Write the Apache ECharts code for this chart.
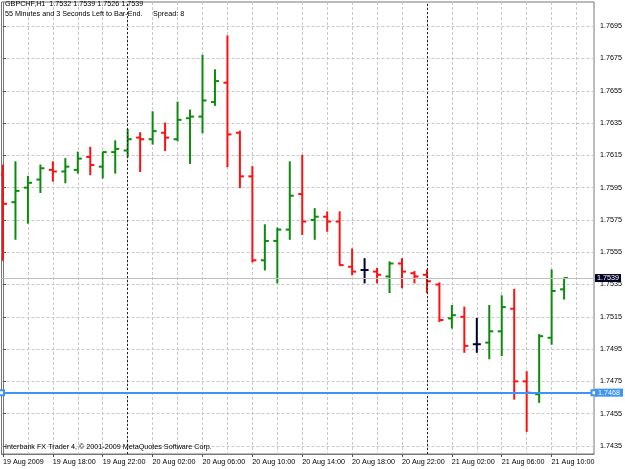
<!DOCTYPE html>
<html><head><meta charset="utf-8">
<script src="https://cdn.jsdelivr.net/npm/echarts@6/dist/echarts.min.js"></script>
<style>html,body{margin:0;padding:0;background:#fff}#c{width:625px;height:469px}</style>
</head><body><div id="c"></div>
<script>
const symbolName = 'GBPCHF,H1';
const times = [
 '19 Aug 14:00','19 Aug 15:00','19 Aug 16:00','19 Aug 17:00','19 Aug 18:00','19 Aug 19:00','19 Aug 20:00','19 Aug 21:00','19 Aug 22:00','19 Aug 23:00',
 '20 Aug 00:00','20 Aug 01:00','20 Aug 02:00','20 Aug 03:00','20 Aug 04:00','20 Aug 05:00','20 Aug 06:00','20 Aug 07:00','20 Aug 08:00','20 Aug 09:00',
 '20 Aug 10:00','20 Aug 11:00','20 Aug 12:00','20 Aug 13:00','20 Aug 14:00','20 Aug 15:00','20 Aug 16:00','20 Aug 17:00','20 Aug 18:00','20 Aug 19:00',
 '20 Aug 20:00','20 Aug 21:00','20 Aug 22:00','20 Aug 23:00',
 '21 Aug 00:00','21 Aug 01:00','21 Aug 02:00','21 Aug 03:00','21 Aug 04:00','21 Aug 05:00','21 Aug 06:00','21 Aug 07:00','21 Aug 08:00','21 Aug 09:00',
 '21 Aug 10:00','21 Aug 11:00'];
const opens = [1.7603,1.7586,1.7595,1.7600,1.7606,1.7605,1.7606,1.7614,1.7608,1.7617,
 1.7618,1.7626,1.7625,1.7629,1.7625,1.7638,1.7639,1.7648,1.7660,1.7629,
 1.7602,1.7550,1.7562,1.7569,1.7591,1.7575,1.7577,1.7574,1.7546,1.7544,
 1.7543,1.7540,1.7548,1.7542,1.7541,1.7535,1.7514,1.7515,1.7498,1.7499,
 1.7506,1.7520,1.7475,1.7467,1.7502,1.7532];
const highs = [1.7609,1.7611,1.7602,1.7609,1.7611,1.7613,1.7617,1.7620,1.7617,1.7624,
 1.7631,1.7629,1.7642,1.7635,1.7648,1.7643,1.7677,1.7668,1.7689,1.7630,
 1.7608,1.7572,1.7570,1.7611,1.7615,1.7582,1.7580,1.7580,1.7557,1.7551,
 1.7545,1.7549,1.7551,1.7543,1.7544,1.7536,1.7522,1.7521,1.7514,1.7522,
 1.7528,1.7532,1.7481,1.7504,1.7544,1.7539];
const lows = [1.7550,1.7563,1.7573,1.7592,1.7599,1.7598,1.7604,1.7603,1.7601,1.7604,
 1.7614,1.7605,1.7622,1.7618,1.7624,1.7610,1.7629,1.7646,1.7608,1.7595,
 1.7549,1.7544,1.7536,1.7563,1.7566,1.7563,1.7568,1.7547,1.7541,1.7536,
 1.7536,1.7530,1.7533,1.7536,1.7530,1.7512,1.7508,1.7493,1.7493,1.7489,
 1.7491,1.7464,1.7444,1.7462,1.7498,1.7526];
const closes = [1.7585,1.7593,1.7598,1.7607,1.7605,1.7608,1.7613,1.7609,1.7617,1.7619,
 1.7625,1.7625,1.7630,1.7626,1.7637,1.7639,1.7649,1.7661,1.7628,1.7602,
 1.7550,1.7562,1.7569,1.7590,1.7574,1.7577,1.7574,1.7547,1.7543,1.7544,
 1.7541,1.7548,1.7543,1.7540,1.7537,1.7513,1.7516,1.7497,1.7498,1.7506,
 1.7521,1.7475,1.7468,1.7503,1.7531,1.7539];
const yTicks = [1.7435,1.7455,1.7475,1.7495,1.7515,1.7535,1.7555,1.7575,1.7595,1.7615,1.7635,1.7655,1.7675,1.7695];
const xTickLabels = ['19 Aug 2009','19 Aug 18:00','19 Aug 22:00','20 Aug 02:00','20 Aug 06:00','20 Aug 10:00','20 Aug 14:00','20 Aug 18:00','20 Aug 22:00','21 Aug 02:00','21 Aug 06:00','21 Aug 10:00'];
const xTickTimes = ['19 Aug 14:00','19 Aug 18:00','19 Aug 22:00','20 Aug 02:00','20 Aug 06:00','20 Aug 10:00','20 Aug 14:00','20 Aug 18:00','20 Aug 22:00','21 Aug 02:00','21 Aug 06:00','21 Aug 10:00'];
const bidPrice = 1.7539;
const hLinePrice = 1.7468;
const infoLine2 = '55 Minutes and 3 Seconds Left to Bar-End.';
const spreadText = 'Spread: 8';
const footerText = 'Interbank FX Trader 4, \u00a9 2001-2009 MetaQuotes Software Corp.';

const FONT = 'Liberation Sans';
const FS = 7.2;
const UP = '#0c8c0c', DOWN = '#ff1010', DOJI = '#000033';
const last = times.length - 1;
const header1 = symbolName + '  ' + [opens[last], highs[last], lows[last], closes[last]].map(v => v.toFixed(4)).join(' ');
const xTickIdx = xTickTimes.map(t => times.indexOf(t));
const gridIdx = times.map((t, i) => i).filter(i => i % 2 === 0).concat([times.length]);
const daySep = times.map((t, i) => i).filter(i => times[i].endsWith('00:00'));
const helperData = times.map((t, i) => [i, closes[i]]);

const chart = echarts.init(document.getElementById('c'), null, {renderer: 'canvas'});
const txt = {fontSize: FS, fontFamily: FONT, fontWeight: 'normal', color: '#000'};
chart.setOption({
  animation: false,
  backgroundColor: '#fff',
  title: [
    {text: header1, left: 5, top: 1, padding: 0, textStyle: txt},
    {text: infoLine2, left: 5, top: 11, padding: 0, textStyle: txt},
    {text: spreadText, left: 153, top: 11, padding: 0, textStyle: txt},
    {text: footerText, left: 5, top: 444, padding: 0, textStyle: txt}
  ],
  grid: {left: 1, top: 2, width: 594, height: 452, show: true, borderColor: '#777', borderWidth: 1, backgroundColor: 'transparent'},
  xAxis: [
    {type: 'value', min: -0.12, max: 47.4, position: 'bottom',
     axisLine: {show: true, lineStyle: {color: '#777', width: 1}},
     axisTick: {show: false, customValues: gridIdx},
     axisLabel: {show: false},
     splitLine: {show: true, lineStyle: {color: '#c8c8c8', type: [3, 2], width: 1}}},
    {type: 'value', min: -0.12, max: 47.4, position: 'bottom',
     axisLine: {show: false},
     axisTick: {show: true, customValues: xTickIdx, length: 3, lineStyle: {color: '#555'}},
     axisLabel: {show: true, customValues: xTickIdx, align: 'left', margin: 5,
       fontSize: FS, fontFamily: FONT, color: '#000',
       formatter: v => xTickLabels[xTickIdx.indexOf(v)] || ''},
     splitLine: {show: false}}
  ],
  yAxis: {
    type: 'value', position: 'right', min: 1.7430, max: 1.7710,
    axisLine: {show: true, lineStyle: {color: '#777', width: 1}},
    axisTick: {show: true, customValues: yTicks, length: 3, lineStyle: {color: '#555'}},
    axisLabel: {show: true, customValues: yTicks, margin: 6, fontSize: FS, fontFamily: FONT, color: '#000',
      formatter: v => v.toFixed(4)},
    splitLine: {show: true, lineStyle: {color: '#c8c8c8', type: [3, 2], width: 1}}
  },
  series: [
    {type: 'line', data: helperData, z: 1, silent: true, symbol: 'none', xAxisIndex: 0,
     lineStyle: {opacity: 0, width: 0},
     markLine: {silent: true, animation: false, precision: 4, symbol: ['none', 'none'],
       data: daySep.map(i => ({xAxis: i, lineStyle: {color: '#222', type: [2, 2], width: 1}, label: {show: false}}))
         .concat([{yAxis: bidPrice, lineStyle: {color: '#c0c0c0', type: 'solid', width: 1},
           label: {show: true, position: 'end', distance: 1, formatter: bidPrice.toFixed(4),
             backgroundColor: '#000022', color: '#fff', padding: [1, 2, 0, 2], fontSize: FS, fontFamily: FONT}}])}},
    {type: 'custom', z: 2, clip: true, xAxisIndex: 0,
     data: times.map((t, i) => [i, opens[i], highs[i], lows[i], closes[i]]),
     encode: {x: 0, y: [1, 2, 3, 4]},
     renderItem: function (params, api) {
       const i = api.value(0), o = api.value(1), h = api.value(2), l = api.value(3), c = api.value(4);
       const po = api.coord([i, o]), ph = api.coord([i, h]), pl = api.coord([i, l]), pc = api.coord([i, c]);
       const x = po[0];
       const col = c > o ? UP : (c < o ? DOWN : DOJI);
       const st = {stroke: col, lineWidth: 2};
       return {type: 'group', children: [
         {type: 'line', shape: {x1: x, y1: ph[1] - 0.5, x2: x, y2: pl[1] + 0.5}, style: st},
         {type: 'line', shape: {x1: x - 4, y1: po[1], x2: x, y2: po[1]}, style: st},
         {type: 'line', shape: {x1: x, y1: pc[1], x2: x + 4, y2: pc[1]}, style: st}
       ]};
     }},
    {type: 'line', data: helperData, z: 3, silent: true, symbol: 'none', xAxisIndex: 0,
     lineStyle: {opacity: 0, width: 0},
     markLine: {silent: true, animation: false, precision: 4, symbol: ['emptyRect', 'emptyRect'], symbolSize: 5,
       data: [{yAxis: hLinePrice, lineStyle: {color: '#3d94f6', type: 'solid', width: 2},
         label: {show: true, position: 'end', distance: 1, formatter: hLinePrice.toFixed(4),
           backgroundColor: '#3d94f6', color: '#fff', padding: [1, 3, 0, 3], fontSize: FS, fontFamily: FONT}}]}}
  ]
});
</script></body></html>
